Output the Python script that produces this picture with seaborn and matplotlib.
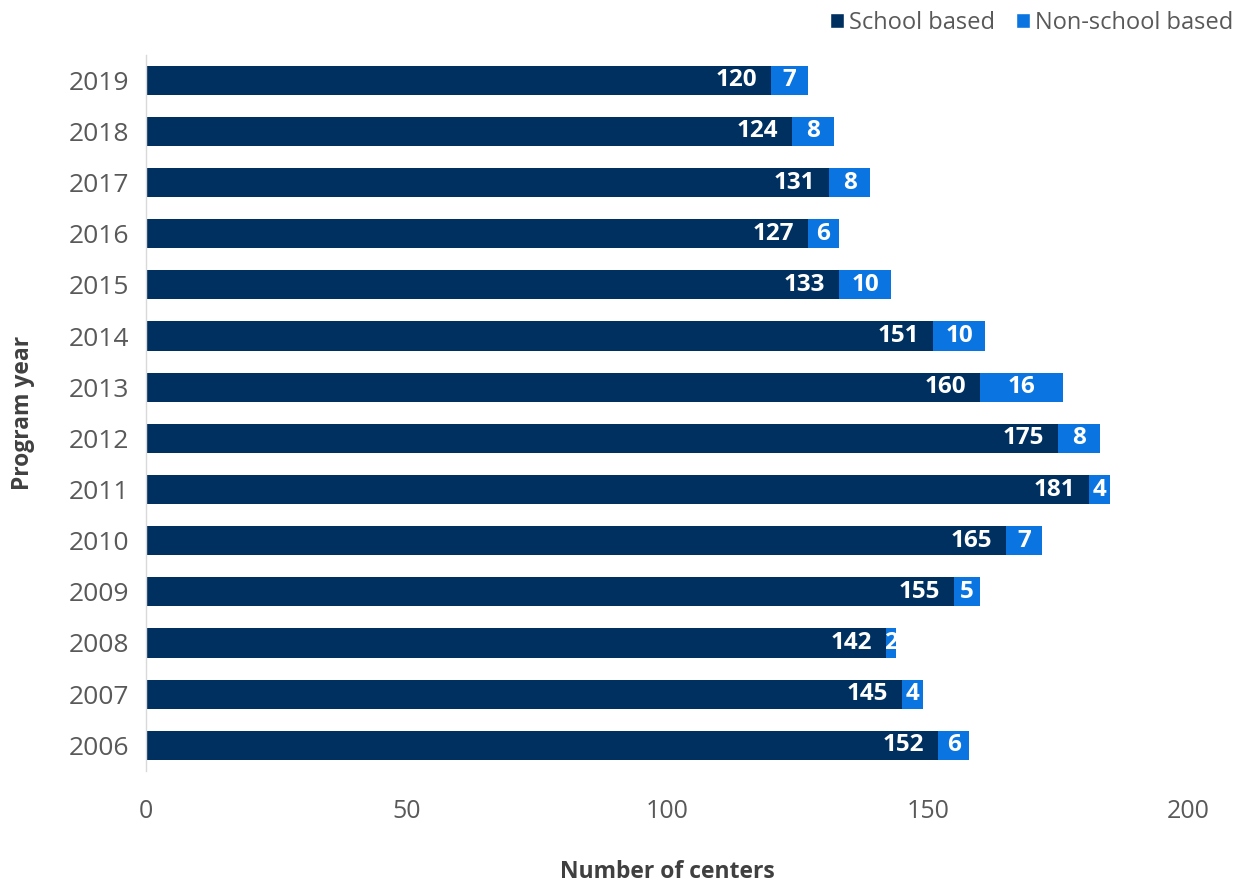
import matplotlib
matplotlib.use("Agg")
import matplotlib.pyplot as plt
import seaborn as sns
import pandas as pd
from matplotlib.patches import Patch

years = ["2019", "2018", "2017", "2016", "2015", "2014", "2013", "2012",
         "2011", "2010", "2009", "2008", "2007", "2006"]
school = [120, 124, 131, 127, 133, 151, 160, 175, 181, 165, 155, 142, 145, 152]
nonschool = [7, 8, 8, 6, 10, 10, 16, 8, 4, 7, 5, 2, 4, 6]
xticks = [0, 50, 100, 150, 200]

NAVY = "#00305f"
BLUE = "#0a75e1"

sns.set_theme(style="white")
plt.rcParams["font.family"] = ["Open Sans", "DejaVu Sans"]

df = pd.DataFrame({"year": years, "school": school, "nonschool": nonschool})
df["total"] = df["school"] + df["nonschool"]

fig = plt.figure(figsize=(12.47, 8.82), dpi=100)
ax = fig.add_axes([0.117, 0.126, 0.836, 0.812])

sns.barplot(data=df, y="year", x="total", order=years, color=BLUE,
            width=0.57, saturation=1, ax=ax, orient="h", linewidth=0)
sns.barplot(data=df, y="year", x="school", order=years, color=NAVY,
            width=0.57, saturation=1, ax=ax, orient="h", linewidth=0)

tot_bars = ax.containers[0]
sch_bars = ax.containers[1]
for pt, ps, s, n in zip(tot_bars, sch_bars, school, nonschool):
    yc = ps.get_y() + ps.get_height() / 2
    ax.annotate(str(s), xy=(ps.get_x() + ps.get_width(), yc), xytext=(-10, 0),
                textcoords="offset points", ha="right", va="center",
                color="white", fontsize=17.5, fontweight="bold")
    xs = ps.get_width() + n / 2
    ax.annotate(str(n), xy=(xs, yc), xytext=(0, 0), textcoords="offset points",
                ha="center", va="center", color="white", fontsize=17.5,
                fontweight="bold")

ax.set_xlim(0, 200)
ax.set_xticks(xticks)
ax.set_xticklabels([str(t) for t in xticks])
ax.tick_params(axis="x", length=0, pad=20, labelsize=18, labelcolor="#595959")
ax.tick_params(axis="y", length=0, pad=12, labelsize=19, labelcolor="#595959")
ax.set_xlabel("Number of centers", fontsize=16.5, fontweight="bold",
              color="#404040", labelpad=26)
ax.set_ylabel("Program year", fontsize=16.5, fontweight="bold",
              color="#404040", labelpad=24)
for sp in ["top", "right", "bottom"]:
    ax.spines[sp].set_visible(False)
ax.spines["left"].set_color("#d9d9d9")
ax.spines["left"].set_linewidth(1)
ax.grid(False)

handles = [Patch(facecolor=NAVY, label="School based"),
           Patch(facecolor=BLUE, label="Non-school based")]
fig.legend(handles=handles, loc="upper right", bbox_to_anchor=(1.006, 1.012),
           ncol=2, frameon=False, fontsize=17, handlelength=0.6,
           handleheight=0.6, handletextpad=0.2, columnspacing=0.9,
           labelcolor="#595959")

fig.savefig("out.png", dpi=100)
